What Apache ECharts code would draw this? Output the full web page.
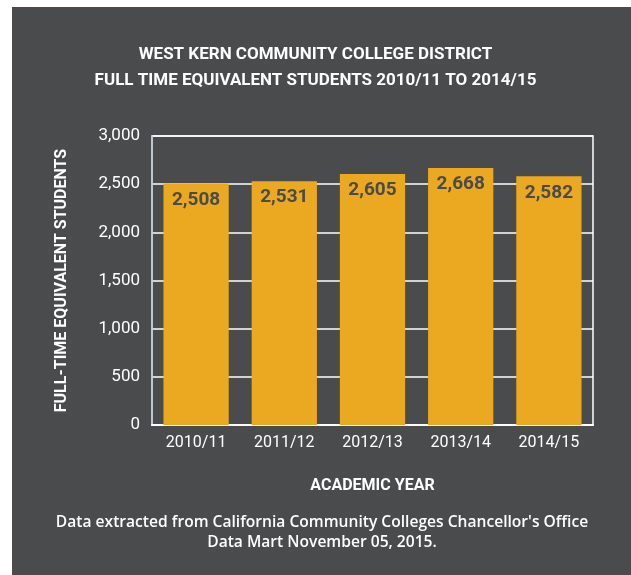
<!DOCTYPE html>
<html><head><meta charset="utf-8">
<script src="https://cdn.jsdelivr.net/npm/echarts@6/dist/echarts.min.js"></script>
<style>html,body{margin:0;padding:0;background:#fff;}#c{width:631px;height:575px;}</style>
</head><body><div id="c"></div>
<script>
var categories = ['2010/11','2011/12','2012/13','2013/14','2014/15'];
var fteValues = [2508, 2531, 2605, 2668, 2582];
var yTicks = [0, 500, 1000, 1500, 2000, 2500, 3000];
var titleLines = ['WEST KERN COMMUNITY COLLEGE DISTRICT','FULL TIME EQUIVALENT STUDENTS 2010/11 TO 2014/15'];
var footLines = ["Data extracted from California Community Colleges Chancellor's Office","Data Mart November 05, 2015."];

var FONT = "Roboto,sans-serif";
var BG = '#4a4b4d';
var chart = echarts.init(document.getElementById('c'));
function fmt(v){return String(v).replace(/\B(?=(\d{3})+(?!\d))/g, ',');}
chart.setOption({
  animation:false,
  backgroundColor:'#fff',
  graphic:[
    {type:'rect', shape:{x:12,y:7,width:619,height:568}, style:{fill:BG}, z:-10},
    {type:'text', x:322, y:513, style:{text:footLines.join('\n'), fill:'#fff', font:"600 15.6px 'Open Sans',sans-serif", align:'center', verticalAlign:'top', lineHeight:20}}
  ],
  title:{
    text:titleLines.join('\n'), left:'center', top:37,
    textStyle:{color:'#fff', fontFamily:FONT, fontWeight:'bold', fontSize:17, lineHeight:26}
  },
  grid:{left:152, right:38, top:136, bottom:150, show:true, borderColor:'#fff', borderWidth:1.5, backgroundColor:'transparent'},
  xAxis:{
    type:'category', data:categories,
    name:'ACADEMIC YEAR', nameLocation:'middle', nameGap:53,
    nameTextStyle:{color:'#fff', fontFamily:FONT, fontWeight:'bold', fontSize:16},
    axisLine:{show:true, lineStyle:{color:'#fff', width:2}},
    axisTick:{show:false},
    axisLabel:{color:'#fff', fontFamily:FONT, fontSize:16, margin:10, interval:0}
  },
  yAxis:{
    type:'value', min:0, max:3000, interval:500,
    name:'FULL-TIME EQUIVALENT STUDENTS', nameLocation:'middle', nameGap:82, nameRotate:90,
    nameTextStyle:{color:'#fff', fontFamily:FONT, fontWeight:'bold', fontSize:16},
    axisLine:{show:true, lineStyle:{color:'#b9c4cf', width:1.5}},
    axisTick:{show:false},
    splitLine:{show:true, lineStyle:{color:'#fff', width:1.5}},
    axisLabel:{color:'#fff', fontFamily:FONT, fontSize:17, margin:12, formatter:function(v){return fmt(v);}}
  },
  series:[{
    type:'bar', data:fteValues, barCategoryGap:'26%',
    itemStyle:{color:'#eaa920'},
    label:{show:true, position:'insideTop', distance:7, color:BG, fontFamily:FONT, fontWeight:'bold', fontSize:19, formatter:function(p){return fmt(p.value);}}
  }]
});
</script></body></html>
